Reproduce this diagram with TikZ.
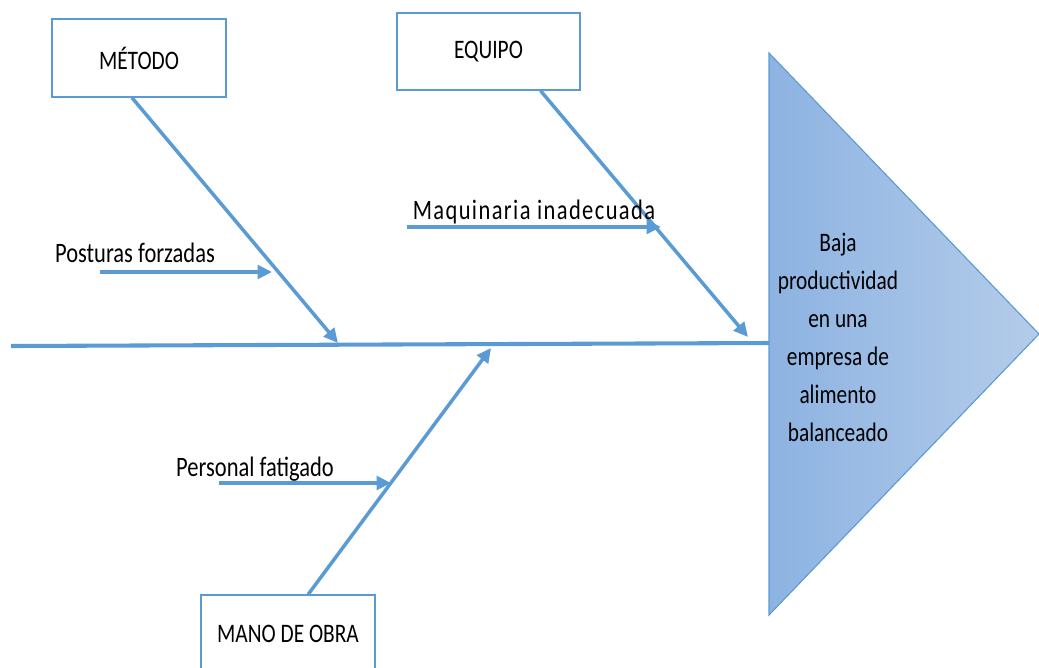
\documentclass[tikz,border=0pt]{standalone}
\usepackage{fontspec}
\setmainfont{Carlito}[FakeStretch=0.8]
\usetikzlibrary{arrows.meta}
\definecolor{azul}{HTML}{5B9BD5}
\definecolor{azulosc}{HTML}{8DB3E2}
\definecolor{azulcl}{HTML}{B4CCE9}

\begin{document}
\begin{tikzpicture}[x=0.025cm, y=-0.025cm,
  causa/.style={draw=azul, line width=1pt, fill=white, font=\fontsize{19}{27}\selectfont, minimum width=43.5mm, minimum height=19.5mm},
  lbl/.style={font=\fontsize{20}{27}\selectfont, inner sep=0pt},
  espina/.style={draw=azul, line width=2.9pt},
  hueso/.style={draw=azul, line width=2.5pt, -{Triangle[length=3.6mm, width=3.4mm]}}]
\useasboundingbox (0,0) rectangle (1039,667);
% cabeza del pescado
\shade[left color=azulosc, right color=azulcl, draw=azul, line width=0.8pt] (769,53) -- (1039,334) -- (769,615) -- cycle;
\node[lbl, font=\fontsize{19}{27}\selectfont, align=center] (efecto) at (838,337) {Baja\\productividad\\en una\\empresa de\\alimento\\balanceado};
% espina central
\coordinate (cola)   at (11,346);
\coordinate (cabeza) at (769,343);
\draw[espina] (cola) -- (cabeza);
% causas
\node[causa] (metodo) at (139,58)  {MÉTODO};
\node[causa, minimum width=45.75mm, minimum height=19.25mm] (equipo) at (488.5,51.5) {EQUIPO};
\node[causa] (mano)   at (288,634) {MANO DE OBRA};
\coordinate (pm) at (338,343);
\coordinate (pe) at (748,337);
\coordinate (po) at (491,348);
\draw[hueso] (metodo.-100) -- (pm);
\draw[hueso] (equipo.-37)  -- (pe);
\draw[hueso] (mano.63)     -- (po);
% subcausas
\node[lbl, anchor=base] (posturas)   at (135,262) {Posturas forzadas};
\node[lbl, anchor=base] (maquinaria) at (534,219) {\addfontfeature{LetterSpace=5}Maquinaria inadecuada};
\node[lbl, anchor=base] (personal)   at (255,476) {Personal fatigado};
\coordinate (p1) at (100,272); \coordinate (p2) at (272,272);
\coordinate (q1) at (407,227); \coordinate (q2) at (661,227);
\coordinate (r1) at (219,483); \coordinate (r2) at (391,483);
\draw[hueso] (p1) -- (p2);
\draw[hueso] (q1) -- (q2);
\draw[hueso] (r1) -- (r2);
\end{tikzpicture}
\end{document}
